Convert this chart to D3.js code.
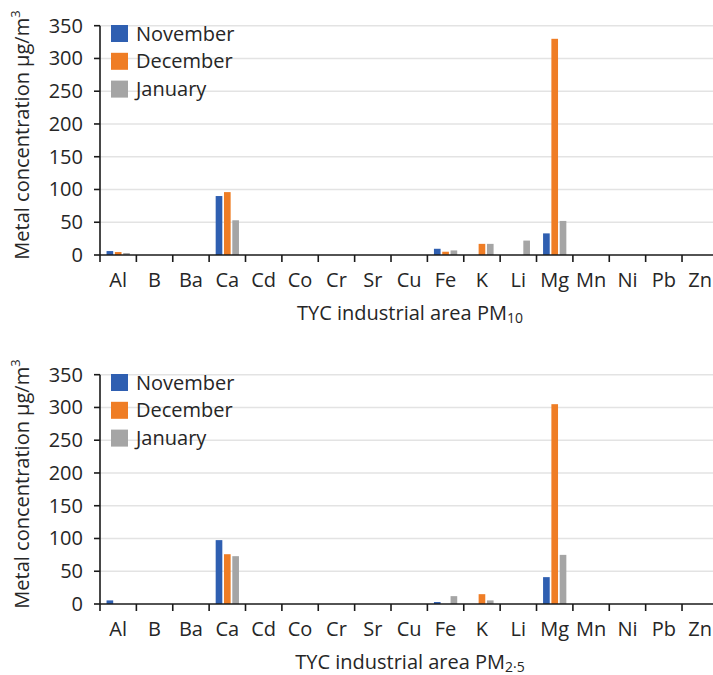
<!DOCTYPE html>
<html lang="en">
<head>
    <meta charset="UTF-8">
    <title>TYC industrial area metals</title>
    <style>
        body { margin: 0; background: #fff; }
        svg { display: block; font-family: "Open Sans", sans-serif; }
        .tickLabel { font-size: 20px; fill: #262626; }
        .grid line { stroke: #e3e3e3; stroke-width: 1.4px; }
        .axisLine { stroke: #1a1a1a; stroke-width: 1.6px; }
        .legendText { font-size: 20px; fill: #262626; }
        .axisTitle { font-size: 20px; fill: #262626; }
    </style>
    <script src="https://cdn.jsdelivr.net/npm/d3@7"></script>
</head>
<body>
<script>
    // categories and series
    const elements = ["Al","B","Ba","Ca","Cd","Co","Cr","Sr","Cu","Fe","K","Li","Mg","Mn","Ni","Pb","Zn"];
    const months = ["November","December","January"];
    const colors = ["#2f5fb1","#ef7d25","#a5a5a5"];
    const yTicks = [0,50,100,150,200,250,300,350];

    // PM10 values (µg/m3)
    const pm10Nov = [6,0,0,90,0,0,0,0,0,9.5,0,0,33,0,0,0,0];
    const pm10Dec = [4.5,0,0,96,0,0,0,0,0,5,17,0,330,0,0,0,0];
    const pm10Jan = [3,0,0,53,0,0,0,0,0,7,17,22,52,0,0,0,0];

    // PM2.5 values
    const pm25Nov = [5.5,0,0,97.5,0,0,0,0,0,3,0,0,41,0,0,0,0];
    const pm25Dec = [0,0,0,76,0,0,0,0,0,0,15,0,305,0,0,0,0];
    const pm25Jan = [0,0,0,73,0,0,0,0,0,12,5.5,0,75,0,0,0,0];

    const width = 713, height = 675;
    const svg = d3.select("body").append("svg")
        .attr("width", width).attr("height", height);

    const x = d3.scaleBand().domain(elements).range([100, 718.4]).padding(0);
    const x1 = d3.scaleBand().domain(months)
        .range([x.bandwidth()*0.18, x.bandwidth()*0.82]).paddingInner(0.2);

    function drawPanel(top, series, sub) {
        const g = svg.append("g").attr("transform", `translate(0,${top})`);
        const y = d3.scaleLinear().domain([0,350]).range([255, 25.7]);

        // gridlines
        g.append("g").attr("class","grid")
            .selectAll("line").data(yTicks.filter(d=>d>0)).enter()
            .append("line")
            .attr("x1", 100).attr("x2", 718)
            .attr("y1", d=>y(d)).attr("y2", d=>y(d));

        // bars
        const rows = [];
        elements.forEach((e,i)=>{
            months.forEach((m,j)=>rows.push({e:e, m:m, v:series[j][i], c:colors[j]}));
        });
        g.append("g").selectAll("rect")
            .data(rows.filter(d=>d.v>0)).enter()
            .append("rect")
            .attr("x", d=>x(d.e)+x1(d.m))
            .attr("width", x1.bandwidth())
            .attr("y", d=>y(d.v))
            .attr("height", d=>y(0)-y(d.v))
            .attr("fill", d=>d.c);

        // axes
        g.append("line").attr("class","axisLine")
            .attr("x1",100).attr("x2",100).attr("y1",y(350)).attr("y2",y(0)+7);
        g.append("line").attr("class","axisLine")
            .attr("x1",100).attr("x2",718).attr("y1",y(0)).attr("y2",y(0));
        g.append("g").selectAll("line").data(yTicks).enter()
            .append("line").attr("class","axisLine")
            .attr("x1",94).attr("x2",100).attr("y1",d=>y(d)).attr("y2",d=>y(d));
        g.append("g").selectAll("line").data(elements.slice(1)).enter()
            .append("line").attr("class","axisLine")
            .attr("x1",d=>x(d)).attr("x2",d=>x(d)).attr("y1",y(0)).attr("y2",y(0)+7);

        g.append("g").selectAll("text").data(yTicks).enter()
            .append("text").attr("class","tickLabel")
            .attr("x",83).attr("y",d=>y(d)).attr("dy","0.35em")
            .attr("text-anchor","end")
            .text(d=>d);
        g.append("g").selectAll("text").data(elements).enter()
            .append("text").attr("class","tickLabel")
            .attr("x",d=>x(d)+x.bandwidth()/2).attr("y",287)
            .attr("text-anchor","middle")
            .text(d=>d);

        // y title
        const yt = g.append("text").attr("class","axisTitle")
            .attr("text-anchor","middle")
            .attr("transform","translate(29,135) rotate(-90)");
        yt.append("tspan").text("Metal concentration µg/m");
        yt.append("tspan").attr("font-size","13px").attr("dy","-9").text("3");

        // x title
        const xt = g.append("text").attr("class","axisTitle")
            .attr("x",410).attr("y",320).attr("text-anchor","middle");
        xt.append("tspan").text("TYC industrial area PM");
        xt.append("tspan").attr("font-size","14px").attr("dy","3").text(sub);

        // legend
        const leg = g.append("g").selectAll("g").data(months).enter()
            .append("g").attr("transform",(d,i)=>`translate(111,${25+i*27.8})`);
        leg.append("rect").attr("width",17).attr("height",17)
            .attr("fill",(d,i)=>colors[i]);
        leg.append("text").attr("class","legendText")
            .attr("x",25).attr("y",15.5).text(d=>d);
    }

    drawPanel(0, [pm10Nov, pm10Dec, pm10Jan], "10");
    drawPanel(349, [pm25Nov, pm25Dec, pm25Jan], "2·5");
</script>
</body>
</html>
